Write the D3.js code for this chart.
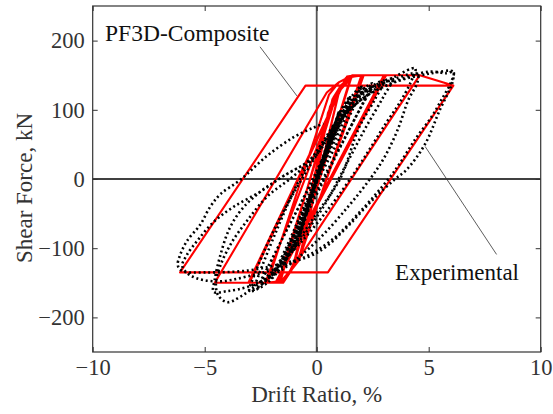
<!DOCTYPE html>
<html><head><meta charset="utf-8">
<script src="https://cdn.jsdelivr.net/npm/d3@7"></script>
<style>html,body{margin:0;padding:0;background:#fff;} svg{display:block;}</style>
</head><body><div id="chart"></div>
<script>
// ---------- data ----------
const xTicks = [-10, -5, 0, 5, 10];
const yTicks = [-200, -100, 0, 100, 200];
const xDomain = [-10, 10];
const yDomain = [-250, 250];
const xTitle = "Drift Ratio, %";
const yTitle = "Shear Force, kN";
const modelLabel = "PF3D-Composite";
const expLabel = "Experimental";

// PF3D-Composite model: [drift %, shear kN]
const modelPoints = [
  [0,0],[0.5,95],[0.85,122],[1.0,126],
  [-0.7,-105],[-0.9,-120],[-1.0,-125],
  [0.6,105],[0.85,122],[1.0,127],
  [-0.75,-110],[-0.95,-122],[-1.05,-126],
  [0.7,115],[1.0,130],[1.5,145],
  [-1.0,-120],[-1.3,-140],[-1.6,-146],
  [0.75,118],[1.1,136],[1.55,147],
  [-1.1,-128],[-1.4,-143],[-1.7,-147],
  [0.9,124],[1.5,147],[2.0,150],
  [-0.8,-118],[-1.5,-147],[-2.2,-150],
  [0.55,122],[1.0,140],[1.6,149],[2.1,150],
  [-0.9,-122],[-1.6,-148],[-2.3,-150],
  [0.95,125],[1.6,148],[2.1,150],[3.0,150],
  [-1.84,-150],[-3.0,-150],
  [1.35,148],[1.7,150],[3.1,150],
  [-1.8,-150],[-3.05,-150],
  [1.3,146],[1.7,150],[4.6,150],
  [-1.5,-150],[-4.55,-150],
  [0.45,125],[1.0,140],[1.6,150],[4.6,150],[6.1,135],
  [0.5,-135],[-6.1,-135],
  [-0.5,135],[6.1,135],
  [0.5,-135]
];

// Experimental: [drift %, shear kN]
const expPoints = [
  [0,0],[0.3,32],[0.5,50],[0.3,30],[-0.1,-8],[-0.3,-32],[-0.5,-55],[-0.3,-36],[0.1,8],
  [0.45,45],[0.75,78],[0.55,58],[0.05,5],[-0.4,-42],[-0.75,-82],[-0.55,-62],[-0.05,-6],
  [0.45,45],[0.75,76],[0.5,50],[0,0],[-0.45,-48],[-0.75,-80],[-0.5,-55],[0,-4],
  [0.5,50],[1.0,98],[0.75,72],[0.2,15],[-0.4,-42],[-1.0,-102],[-0.75,-80],[-0.2,-18],
  [0.4,42],[1.0,96],[0.7,68],[0.1,5],[-0.5,-52],[-1.0,-100],[-0.7,-72],[-0.1,-8],
  [0.6,62],[1.2,105],[1.5,120],[1.2,98],[0.5,40],[-0.3,-28],[-1.0,-92],[-1.5,-125],[-1.2,-105],[-0.5,-45],
  [0.3,28],[1.0,95],[1.5,118],[1.15,92],[0.4,32],[-0.4,-35],[-1.1,-98],[-1.5,-122],[-1.15,-100],[-0.4,-38],
  [0.4,35],[1.2,100],[1.7,125],[2.0,135],[1.6,110],[0.8,55],[0,0],[-0.9,-70],[-1.6,-125],[-2.0,-140],[-1.6,-120],[-0.7,-55],
  [0.2,15],[1.2,90],[1.8,125],[2.1,133],[1.6,100],[0.8,45],[-0.1,-12],[-1.1,-88],[-1.7,-130],[-2.1,-145],[-1.7,-122],[-0.8,-58],
  [0.3,30],[1.3,98],[2.0,128],[2.5,138],[2.1,112],[1.3,62],[0.5,10],[-0.6,-60],[-1.6,-118],[-2.3,-148],[-2.6,-155],[-2.3,-135],[-1.4,-78],[-0.4,-15],
  [0.5,45],[1.5,105],[2.2,130],[2.5,136],[2.0,105],[1.1,50],[0.2,-5],[-0.9,-75],[-1.8,-128],[-2.5,-152],[-2.2,-130],[-1.2,-65],[-0.2,-5],
  [0.2,20],[1.2,92],[2.2,128],[3.0,142],[2.6,115],[1.9,75],[1.04,0],[0,-50],[-1.2,-105],[-2.2,-145],[-2.8,-160],[-2.6,-140],[-1.8,-75],[-0.75,0],[0.3,55],[1.5,110],[2.6,135],[3.4,145],
  [3.0,120],[2.2,75],[1.3,20],[0.3,-40],[-1.0,-100],[-2.2,-150],[-3.0,-162],[-2.8,-140],[-2.0,-80],[-1.2,-30],[0,35],[1.0,85],
  [2.2,120],[3.5,148],[4.4,160],[4.2,140],[3.7,110],[3.1,81],[2.4,45],[1.6,5],[0.6,-40],[-0.8,-95],[-2.2,-140],[-3.3,-168],[-4.0,-178],[-4.4,-168],[-4.5,-150],[-4.3,-125],[-3.8,-92],[-3.1,-60],[-2.2,-25],[-1.2,0],[0,35],[1.0,85],[2.2,125],[3.5,145],[4.5,152],
  [4.5,140],[4.1,115],[3.6,70],[3.0,30],[2.38,0],[1.4,-40],[0,-90],[-1.5,-130],[-3.0,-155],[-4.0,-162],[-4.6,-163],[-4.55,-145],[-4.3,-110],[-3.9,-72],[-3.3,-42],[-2.5,-18],[-1.5,4],[-0.3,28],[0.8,75],[2.0,115],[3.5,140],[5.0,152],[6.1,155],
  [6.0,140],[5.58,115],[5.13,90],[4.39,57],[3.72,23],[3.2,0],[2.0,-45],[0.6,-90],[-1.0,-120],[-3.0,-140],[-4.5,-148],[-5.6,-140],[-6.0,-126],[-5.8,-110],[-5.3,-88],[-4.6,-62],[-3.7,-40],[-2.5,-18],[-1.5,4],[-0.3,28],[0.8,75],[2.0,115],[3.6,142],[5.0,155],[5.8,153],[6.1,155],
  [6.1,145],[6.0,134],[5.5,100],[4.83,50],[4.0,13],[3.5,0],[2.5,-30],[1.4,-68],[0.45,-97],[-0.34,-112],[-1.5,-122],[-3.0,-132],[-5.0,-135],[-6.0,-133],[-6.2,-125],[-6.1,-110],[-5.8,-90],[-5.2,-66],[-4.75,-40],[-4.3,-22],[-3.4,-1],[-2.23,33],[-1.05,60],[-0.16,74],[0.3,80]
];

// annotation leader lines in data units
const modelLeader = [[-2.53,191],[-0.88,120]];
const expLeader = [[4.84,47],[8.03,-109]];
const modelLabelAt = [-9.45, 200];
const expLabelAt = [3.5, -146];

// ---------- chart ----------
const W = 553, H = 414;
const X0 = 92.7, X1 = 540.7, Y0 = 352, Y1 = 6;
const FONT = "'Liberation Serif','Times New Roman',serif";

const svg = d3.select("#chart").append("svg")
  .attr("width", W).attr("height", H)
  .style("background", "#fff");

const x = d3.scaleLinear().domain(xDomain).range([X0, X1]);
const y = d3.scaleLinear().domain(yDomain).range([Y0, Y1]);

svg.append("defs").append("clipPath").attr("id", "clip")
  .append("rect").attr("x", X0).attr("y", Y1).attr("width", X1 - X0).attr("height", Y0 - Y1);

// zero lines
svg.append("line").attr("x1", x(0)).attr("x2", x(0)).attr("y1", Y1).attr("y2", Y0)
  .attr("stroke", "#555").attr("stroke-width", 1.8);
svg.append("line").attr("x1", X0).attr("x2", X1).attr("y1", y(0)).attr("y2", y(0))
  .attr("stroke", "#000").attr("stroke-width", 1.5);

const plot = svg.append("g").attr("clip-path", "url(#clip)");

// model (red)
plot.append("path")
  .datum(modelPoints)
  .attr("fill", "none")
  .attr("stroke", "#ff0000")
  .attr("stroke-width", 2.1)
  .attr("stroke-linejoin", "round")
  .attr("d", d3.line().x(d => x(d[0])).y(d => y(d[1])).curve(d3.curveLinear));

// experimental (black dotted)
plot.append("path")
  .datum(expPoints)
  .attr("fill", "none")
  .attr("stroke", "#000")
  .attr("stroke-width", 2.6)
  .attr("stroke-dasharray", "2,2.8")
  .attr("d", d3.line().x(d => x(d[0])).y(d => y(d[1])).curve(d3.curveCatmullRom.alpha(0.5)));

// axes
function styleAxis(g, showText) {
  g.select(".domain").remove();
  g.selectAll(".tick line").attr("stroke", "#333").attr("stroke-width", 1);
  g.selectAll(".tick text")
    .attr("fill", "#333")
    .style("font-family", FONT)
    .style("font-size", "22.5px");
  if (!showText) g.selectAll(".tick text").remove();
}
svg.append("g").attr("transform", `translate(0,${Y0})`)
  .call(d3.axisBottom(x).tickValues(xTicks).tickSizeInner(-5).tickSizeOuter(0).tickPadding(7).tickFormat(d3.format("d")))
  .call(g => styleAxis(g, true));
svg.append("g").attr("transform", `translate(0,${Y1})`)
  .call(d3.axisTop(x).tickValues(xTicks).tickSizeInner(-5).tickSizeOuter(0))
  .call(g => styleAxis(g, false));
svg.append("g").attr("transform", `translate(${X0},0)`)
  .call(d3.axisLeft(y).tickValues(yTicks).tickSizeInner(-5).tickSizeOuter(0).tickPadding(8).tickFormat(d3.format("d")))
  .call(g => styleAxis(g, true));
svg.append("g").attr("transform", `translate(${X1},0)`)
  .call(d3.axisRight(y).tickValues(yTicks).tickSizeInner(-5).tickSizeOuter(0))
  .call(g => styleAxis(g, false));

// frame
svg.append("rect").attr("x", X0).attr("y", Y1).attr("width", X1 - X0).attr("height", Y0 - Y1)
  .attr("fill", "none").attr("stroke", "#333").attr("stroke-width", 1.2);

// titles
svg.append("text").attr("x", (X0 + X1) / 2).attr("y", 402)
  .attr("text-anchor", "middle").attr("fill", "#333")
  .style("font-family", FONT).style("font-size", "23px").text(xTitle);
svg.append("text").attr("transform", `translate(32,${(Y0 + Y1) / 2 + 9}) rotate(-90)`)
  .attr("text-anchor", "middle").attr("fill", "#333")
  .style("font-family", FONT).style("font-size", "23px").text(yTitle);

// annotations
svg.append("line")
  .attr("x1", x(modelLeader[0][0])).attr("y1", y(modelLeader[0][1]))
  .attr("x2", x(modelLeader[1][0])).attr("y2", y(modelLeader[1][1]))
  .attr("stroke", "#333").attr("stroke-width", 0.8);
svg.append("line")
  .attr("x1", x(expLeader[0][0])).attr("y1", y(expLeader[0][1]))
  .attr("x2", x(expLeader[1][0])).attr("y2", y(expLeader[1][1]))
  .attr("stroke", "#333").attr("stroke-width", 0.8);
svg.append("text").attr("x", x(modelLabelAt[0])).attr("y", y(modelLabelAt[1]))
  .attr("fill", "#111").style("font-family", FONT).style("font-size", "23.5px").text(modelLabel);
svg.append("text").attr("x", x(expLabelAt[0])).attr("y", y(expLabelAt[1]))
  .attr("fill", "#111").style("font-family", FONT).style("font-size", "23px").text(expLabel);
</script>
</body></html>
